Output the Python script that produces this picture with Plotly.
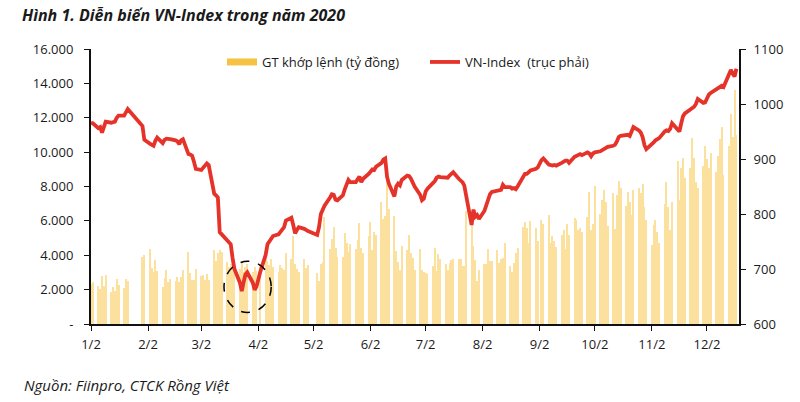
import pandas as pd
import plotly.graph_objects as go

# ---------------- data ----------------
holidays = ["2020-01-01", "2020-01-23", "2020-01-24", "2020-01-27", "2020-01-28",
            "2020-01-29", "2020-04-02", "2020-04-30", "2020-05-01", "2020-09-02"]

vn_jan = [966, 965, 956, 958, 948, 960, 968, 966, 967, 968, 975, 979, 979, 984, 991, 960, 935]
vn_feb = [928, 926, 924, 933, 939, 929, 935, 937, 936, 936, 934, 932, 927, 934, 936, 909, 908, 906, 895, 882]
vn_mar = [880, 884, 888, 892, 889, 837, 834, 830, 767, 763, 752, 749, 745, 720, 700, 675, 660, 676, 690, 694, 675, 662]
vn_apr = [668, 694, 726, 745, 750, 757, 760, 763, 768, 770, 776, 788, 793, 780, 765, 771, 776, 773, 770, 769]
vn_may = [762, 776, 800, 810, 815, 830, 836, 835, 826, 825, 834, 845, 852, 862, 858, 858, 863, 868, 858, 864]
vn_jun = [873, 877, 881, 880, 886, 893, 899, 901, 868, 855, 832, 850, 855, 852, 862, 870, 869, 864, 857, 850, 835, 825]
vn_jul = [828, 841, 846, 855, 860, 866, 868, 867, 866, 866, 870, 872, 876, 864, 862, 858, 852, 836, 780, 808, 795, 798, 791]
vn_aug = [806, 816, 828, 836, 840, 842, 843, 844, 853, 849, 849, 846, 847, 845, 850, 865, 873, 873, 876, 879, 882]
vn_sep = [885, 898, 901, 890, 888, 888, 889, 888, 893, 895, 897, 897, 893, 904, 906, 908, 909, 907, 912, 910, 905]
vn_oct = [910, 912, 914, 916, 918, 921, 922, 924, 926, 932, 940, 942, 943, 944, 942, 950, 958, 952, 948, 940, 925, 918]
vn_nov = [926, 930, 934, 937, 938, 950, 952, 951, 955, 965, 955, 950, 965, 978, 983, 990, 993, 995, 1000, 1009, 1002]
vn_dec = [1003, 1010, 1017, 1020, 1026, 1028, 1032, 1033, 1031, 1052, 1062, 1055, 1050, 1064]

gt_jan = [2300, 2420, 2210, 2050, 2770, 2210, 2860, 1860, 2130, 1920, 2600, 2270, 2070, 2600, 2500, 3900, 4020]
gt_feb = [4350, 3260, 3000, 3750, 3100, 2170, 2650, 3150, 2420, 2620, 2480, 2710, 2440, 2730, 3120,
          4180, 2960, 2580, 2580, 3210]
gt_mar = [2770, 2870, 2580, 2900, 2580, 4330, 3690, 4140, 4300, 4200, 3600, 3300, 3500, 3900, 3400,
          3200, 3600, 3000, 3300, 3500, 3000, 3300]
gt_apr = [3100, 3500, 4120, 3690, 3430, 3780, 3300, 3000, 3430, 3260, 3140, 4150, 3780, 5140, 3470,
          3180, 3000, 3780, 3260, 3430]
gt_may = [2960, 2480, 3500, 3630, 6200, 4380, 4950, 5620, 4440, 3900, 3900, 5300, 4700, 4200, 4660,
          4380, 4890, 5890, 4450, 4150]
gt_jun = [5140, 5950, 4300, 5360, 5160, 7100, 6090, 6260, 8400, 6720, 6260, 4230, 3580, 3130, 4520,
          4300, 5160, 4120, 3820, 3130, 4340, 3130]
gt_jul = [3000, 2950, 2910, 3370, 4450, 3060, 4100, 3760, 3470, 3120, 3560, 3700, 3760, 3810, 3760,
          3370, 3370, 6600, 6300, 4510, 3700, 2480, 3150]
gt_aug = [3470, 3470, 4340, 3690, 3690, 4280, 3560, 3800, 3850, 4720, 3370, 3020, 3560, 4120, 4450,
          5650, 5940, 5560, 4720, 5980, 5600]
gt_sep = [4820, 6080, 5810, 6370, 4720, 5130, 4820, 4500, 5180, 5480, 4370, 5810, 5180, 6180, 6080,
          5480, 5560, 5380, 6220, 7660, 5480]
gt_oct = [5790, 8010, 6380, 7200, 7780, 7100, 5700, 7610, 5510, 7520, 8330, 7910, 6880, 7680, 7080,
          6370, 7780, 7910, 7610, 8140, 6800, 6030]
gt_nov = [4610, 5770, 6060, 5380, 4700, 6990, 8280, 6830, 5480, 7120, 9490, 7220, 9060, 9640, 8480,
          9100, 10840, 9640, 8280, 7910, 9200]
gt_dec = [10360, 9580, 9100, 9930, 8870, 9780, 10750, 11440, 8670, 10360, 12220, 10900, 13600, 11000]

month_ticks = ["2020-01-02", "2020-02-02", "2020-03-02", "2020-04-02", "2020-05-02", "2020-06-02",
               "2020-07-02", "2020-08-02", "2020-09-02", "2020-10-02", "2020-11-02", "2020-12-02"]
month_labels = ["1/2", "2/2", "3/2", "4/2", "5/2", "6/2", "7/2", "8/2", "9/2", "10/2", "11/2", "12/2"]
left_ticks = [0, 2000, 4000, 6000, 8000, 10000, 12000, 14000, 16000]
left_labels = ["-", "2.000", "4.000", "6.000", "8.000", "10.000", "12.000", "14.000", "16.000"]
right_ticks = [600, 700, 800, 900, 1000, 1100]

# highlighted bottom (dashed circle) in data terms
circle_dates = ["2020-03-14 08:00", "2020-04-09"]
circle_levels = [621, 714]

vnindex = vn_jan + vn_feb + vn_mar + vn_apr + vn_may + vn_jun + vn_jul + vn_aug + vn_sep + vn_oct + vn_nov + vn_dec
gt = gt_jan + gt_feb + gt_mar + gt_apr + gt_may + gt_jun + gt_jul + gt_aug + gt_sep + gt_oct + gt_nov + gt_dec
dates = [d for d in pd.bdate_range("2020-01-02", "2020-12-18") if d.strftime("%Y-%m-%d") not in holidays]
assert len(dates) == len(vnindex) == len(gt), (len(dates), len(vnindex), len(gt))

FONT = "Open Sans"
TXT = "#1a1a1a"
GOLD = "#F6C244"
BAR = "#FBE09E"
RED = "#E6332A"

fig = go.Figure()
fig.add_trace(go.Bar(x=dates, y=gt, marker=dict(color=BAR, opacity=0.999, line=dict(width=0)),
                     width=0.6 * 86400000, showlegend=False, yaxis="y", hoverinfo="skip"))
fig.add_trace(go.Scatter(x=[None], y=[None], mode="lines", line=dict(color=GOLD, width=7),
                         name="GT khớp lệnh (tỷ đồng)", yaxis="y"))
fig.add_trace(go.Scatter(x=dates, y=vnindex, mode="lines", line=dict(color=RED, width=3.8),
                         name="VN-Index  (trục phải)", yaxis="y2"))

fig.add_shape(type="circle", xref="x", yref="y2",
              x0=circle_dates[0], x1=circle_dates[1], y0=circle_levels[0], y1=circle_levels[1],
              line=dict(color="black", width=1.5, dash="dash"))

fig.update_layout(
    width=800, height=402,
    margin=dict(l=91, r=61, t=49, b=78),
    paper_bgcolor="white", plot_bgcolor="white",
    font=dict(family=FONT, size=13, color=TXT),
    bargap=0,
    title=dict(text="Hình 1. Diễn biến VN-Index trong năm 2020", x=22 / 800, xanchor="left",
               xref="container", y=1 - 15 / 402, yanchor="middle",
               font=dict(family=FONT, size=16, color=TXT, weight="bold", style="italic")),
    xaxis=dict(type="date", range=["2020-01-02", "2020-12-19 10:00"],
               tickvals=month_ticks, ticktext=month_labels,
               showline=True, linecolor="#111", linewidth=2,
               ticks="outside", ticklen=5, tickwidth=1.3, tickcolor="#111",
               showgrid=False, zeroline=False, ticklabelstandoff=2),
    yaxis=dict(range=[0, 16000], tickvals=left_ticks, ticktext=left_labels,
               showline=True, linecolor="#111", linewidth=2,
               ticks="outside", ticklen=5, tickwidth=1.3, tickcolor="#111",
               showgrid=False, zeroline=False, ticklabelstandoff=8),
    yaxis2=dict(range=[600, 1100], tickvals=right_ticks, overlaying="y", side="right",
                showline=True, linecolor="#111", linewidth=2,
                ticks="outside", ticklen=5, tickwidth=1.3, tickcolor="#111",
                showgrid=False, zeroline=False, ticklabelstandoff=5),
    legend=dict(orientation="h", x=(222 - 91) / 648, xanchor="left", y=(324 - 62) / 275,
                yanchor="middle", bgcolor="rgba(0,0,0,0)", font=dict(size=13, color=TXT),
                itemwidth=30, entrywidth=158, entrywidthmode="pixels"),
    annotations=[dict(text="Nguồn: Fiinpro, CTCK Rồng Việt", xref="paper", yref="paper",
                      x=(22 - 91) / 648, y=(324 - 385) / 275, xanchor="left", yanchor="middle",
                      showarrow=False, font=dict(family=FONT, size=15, color=TXT, style="italic"))],
)

fig.write_html("out.html", config={"displayModeBar": False},
               post_script="document.body.style.margin='0';document.body.style.overflow='hidden';")
